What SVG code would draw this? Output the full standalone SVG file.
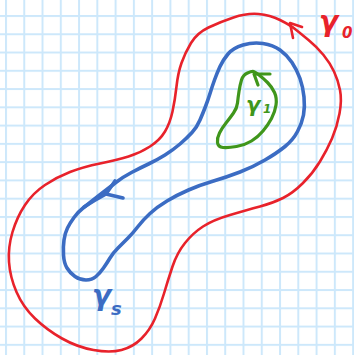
<svg xmlns="http://www.w3.org/2000/svg" width="354" height="355" viewBox="0 0 354 355">
<style>
.c{fill:none;stroke-linecap:round;stroke-linejoin:round}
.r{stroke:#e8222b;stroke-width:2.6}
.b{stroke:#3b6cc3;stroke-width:3.6}
.g{stroke:#3f961b;stroke-width:3.2}
.t{font-family:"DejaVu Sans",sans-serif;font-style:italic;font-weight:bold}
</style>
<defs>
<pattern id="grid" patternUnits="userSpaceOnUse" x="5" y="15" width="18.27" height="18.27">
<rect x="0" y="0" width="2" height="18.27" fill="#cde8fb"/>
<rect x="0" y="0" width="18.27" height="2" fill="#cde8fb"/>
</pattern>
</defs>
<rect width="354" height="355" fill="#ffffff"/>
<rect width="354" height="355" fill="url(#grid)"/>
<g id="gamma0">
<path class="c r" d="M 295,29 Q 290,25 280,20 Q 270,15 258.5,14 Q 247,13 233.5,17.5 Q 220,22 208.5,27.5 Q 197,33 191,43 Q 185,53 181.5,63 Q 178,73 176.5,86.5 Q 175,100 172.5,111.5 Q 170,123 165,131.5 Q 160,140 150,146.5 Q 140,153 128.5,156.5 Q 117,160 100,163.5 Q 83,167 70,172 Q 57,177 45,185 Q 33,193 25,205 Q 17,217 12.5,232 Q 8,247 9,262 Q 10,277 16.5,292 Q 23,307 35,318.5 Q 47,330 62,338.5 Q 77,347 93.5,350 Q 110,353 121.5,350 Q 133,347 141.5,338.5 Q 150,330 155,318.5 Q 160,307 164,293.5 Q 168,280 172.5,266.5 Q 177,253 185,243 Q 193,233 203,226.5 Q 213,220 230,215 Q 247,210 260,206.5 Q 273,203 283,198 Q 293,193 303,183 Q 313,173 320,161.5 Q 327,150 332,138.5 Q 337,127 339.5,113.5 Q 342,100 340,90 Q 338,80 334,71.5 Q 330,63 323.5,55 Q 317,47 308.5,40 Q 300,33 295,29 Z"/>
<path class="c r" d="M 302,27 L 290,23 L 293,38"/>
<text class="t" x="319" y="31" font-size="28" fill="#e8222b">γ</text>
<text class="t" x="342" y="38" font-size="15" fill="#e8222b">0</text>
</g>
<g id="gammas">
<path class="c b" d="M 263,43.5 Q 253,42 243,45 Q 233,48 228,54 Q 223,60 220,66.5 Q 217,73 214.5,80 Q 212,87 210,93.5 Q 208,100 205.5,106.5 Q 203,113 200,120 Q 197,127 192,132.5 Q 187,138 180,144 Q 173,150 165,155 Q 157,160 148.5,164 Q 140,168 131.5,172.5 Q 123,177 116.5,182 Q 110,187 103.5,192 Q 97,197 92,201 Q 87,205 82.5,208.5 Q 78,212 74,217.5 Q 70,223 67.5,228 Q 65,233 64,240 Q 63,247 63.5,255 Q 64,263 67,268 Q 70,273 75,276.5 Q 80,280 86,280 Q 92,280 96,276.5 Q 100,273 103.5,268 Q 107,263 110,258 Q 113,253 118,248 Q 123,243 128,238 Q 133,233 138,226.5 Q 143,220 150,213.5 Q 157,207 167,201 Q 177,195 188.5,190 Q 200,185 213.5,181 Q 227,177 240,172 Q 253,167 265,160 Q 277,153 285,146.5 Q 293,140 297.5,131.5 Q 302,123 303.5,115 Q 305,107 304,97 Q 303,87 300,78.5 Q 297,70 292,62.5 Q 287,55 280,50 Q 273,45 263,43.5 Z"/>
<path class="c b" d="M 115,181 L 106,194 L 123,198"/>
<path class="c b" stroke-width="5.5" d="M 84,207 Q 95,200 106,194"/>
<text class="t" x="92" y="305" font-size="28" fill="#3b6cc3">γ</text>
<text class="t" x="111" y="315" font-size="18" fill="#3b6cc3">s</text>
</g>
<g id="gamma1">
<path class="c g" d="M 253.5,71.5 Q 252,71 247.5,73 Q 243,75 241.5,80 Q 240,85 239,91.5 Q 238,98 237.5,103 Q 237,108 233.5,113 Q 230,118 226,123 Q 222,128 219.5,133 Q 217,138 217.5,142.5 Q 218,147 223,147.5 Q 228,148 236.5,146.5 Q 245,145 251.5,141 Q 258,137 263,131 Q 268,125 271.5,118.5 Q 275,112 276,105 Q 277,98 274.5,92.5 Q 272,87 267.5,82.5 Q 263,78 259,75 Q 255,72 253.5,71.5 Z"/>
<path class="c g" d="M 270,74 L 254,74 L 258,85"/>
<text class="t" x="246" y="112" font-size="21" fill="#3f961b">γ</text>
<text class="t" x="263" y="113" font-size="12" fill="#3f961b">1</text>
</g>
</svg>
